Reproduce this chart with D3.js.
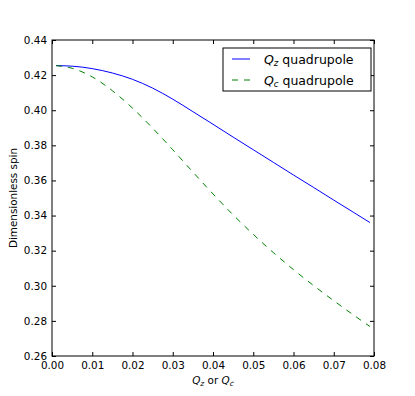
<!DOCTYPE html>
<html>
<head>
<meta charset="utf-8">
<script src="https://cdn.jsdelivr.net/npm/d3@7"></script>
<style>
  body { margin: 0; background: #fff; }
  text { font-family: "DejaVu Sans", sans-serif; }
</style>
</head>
<body>
<div class="canvas"></div>
<script>
// values
const qValues = [0.001, 0.005, 0.010, 0.015, 0.020, 0.025, 0.030, 0.035, 0.040, 0.045, 0.050, 0.055, 0.060, 0.065, 0.070, 0.075, 0.079]
const spinQz = [0.4254, 0.4251, 0.4237, 0.4212, 0.4176, 0.4126, 0.4063, 0.3992, 0.3920, 0.3847, 0.3775, 0.3703, 0.3631, 0.3560, 0.3488, 0.3417, 0.3360]
const spinQc = [0.4254, 0.4239, 0.4190, 0.4111, 0.4012, 0.3898, 0.3775, 0.3648, 0.3523, 0.3404, 0.3293, 0.3189, 0.3092, 0.3001, 0.2915, 0.2832, 0.2768]
const xTicks = [0.00, 0.01, 0.02, 0.03, 0.04, 0.05, 0.06, 0.07, 0.08]
const yTicks = [0.26, 0.28, 0.30, 0.32, 0.34, 0.36, 0.38, 0.40, 0.42, 0.44]

const dims = { width: 415, height: 396 }
const margin = { left: 52, right: 41, top: 40, bottom: 40 }
const inner = {
  width: dims.width - margin.left - margin.right,
  height: dims.height - margin.top - margin.bottom
}

const svg = d3.select('.canvas').append('svg')
  .attr('width', dims.width)
  .attr('height', dims.height)

const graph = svg.append('g')
  .attr('transform', `translate(${margin.left}, ${margin.top})`)

const x = d3.scaleLinear().domain([0, 0.08]).range([0, inner.width])
const y = d3.scaleLinear().domain([0.26, 0.44]).range([inner.height, 0])

const fmt = d3.format('.2f')

// axes with inward ticks on all four sides
const styleAxis = (g) => {
  g.select('.domain').remove()
  g.selectAll('.tick line').attr('stroke', '#000')
  g.selectAll('.tick text').attr('fill', '#000').style('font-size', '10.4px')
}

graph.append('g')
  .attr('transform', `translate(0, ${inner.height})`)
  .call(d3.axisBottom(x).tickValues(xTicks).tickFormat(fmt).tickSizeInner(-4).tickSizeOuter(0).tickPadding(6))
  .call(styleAxis)

graph.append('g')
  .call(d3.axisLeft(y).tickValues(yTicks).tickFormat(fmt).tickSizeInner(-4).tickSizeOuter(0).tickPadding(5))
  .call(styleAxis)

graph.append('g')
  .call(d3.axisTop(x).tickValues(xTicks).tickFormat('').tickSizeInner(-4).tickSizeOuter(0))
  .call(styleAxis)

graph.append('g')
  .attr('transform', `translate(${inner.width}, 0)`)
  .call(d3.axisRight(y).tickValues(yTicks).tickFormat('').tickSizeInner(-4).tickSizeOuter(0))
  .call(styleAxis)

// lines
const line = d3.line()
  .x(d => x(d[0]))
  .y(d => y(d[1]))
  .curve(d3.curveMonotoneX)

graph.append('path')
  .datum(qValues.map((q, i) => [q, spinQz[i]]))
  .attr('fill', 'none')
  .attr('stroke', '#0000ff')
  .attr('stroke-width', 1)
  .attr('d', line)

graph.append('path')
  .datum(qValues.map((q, i) => [q, spinQc[i]]))
  .attr('fill', 'none')
  .attr('stroke', '#008000')
  .attr('stroke-width', 1)
  .attr('stroke-dasharray', '6,6')
  .attr('d', line)

// frame
graph.append('rect')
  .attr('width', inner.width)
  .attr('height', inner.height)
  .attr('fill', 'none')
  .attr('stroke', '#000')
  .attr('stroke-width', 1)

// axis labels
const xLabel = svg.append('text')
  .attr('x', margin.left + inner.width / 2)
  .attr('y', 384)
  .attr('text-anchor', 'middle')
  .style('font-size', '10.4px')
xLabel.append('tspan').attr('font-style', 'italic').text('Q')
xLabel.append('tspan').attr('font-style', 'italic').attr('dy', 2).style('font-size', '7.5px').text('z')
xLabel.append('tspan').attr('dy', -2).text(' or ')
xLabel.append('tspan').attr('font-style', 'italic').text('Q')
xLabel.append('tspan').attr('font-style', 'italic').attr('dy', 2).style('font-size', '7.5px').text('c')

svg.append('text')
  .attr('transform', `translate(17, ${margin.top + inner.height / 2}) rotate(-90)`)
  .attr('text-anchor', 'middle')
  .style('font-size', '10.4px')
  .text('Dimensionless spin')

// legend
const legend = svg.append('g').attr('transform', 'translate(223, 48)')
legend.append('rect')
  .attr('width', 148)
  .attr('height', 43)
  .attr('fill', '#fff')
  .attr('stroke', '#000')
  .attr('stroke-width', 1)

const legendItems = [
  { sub: 'z', color: '#0000ff', dash: null },
  { sub: 'c', color: '#008000', dash: '6,6' }
]

legendItems.forEach((item, i) => {
  const yPos = 11 + i * 21
  legend.append('line')
    .attr('x1', 9).attr('x2', 27)
    .attr('y1', yPos).attr('y2', yPos)
    .attr('stroke', item.color)
    .attr('stroke-dasharray', item.dash)
  const t = legend.append('text')
    .attr('x', 41)
    .attr('y', yPos + 4.5)
    .style('font-size', '12.5px')
  t.append('tspan').attr('font-style', 'italic').text('Q')
  t.append('tspan').attr('font-style', 'italic').attr('dy', 2).style('font-size', '8.5px').text(item.sub)
  t.append('tspan').attr('dy', -2).text(' quadrupole')
})
</script>
</body>
</html>
